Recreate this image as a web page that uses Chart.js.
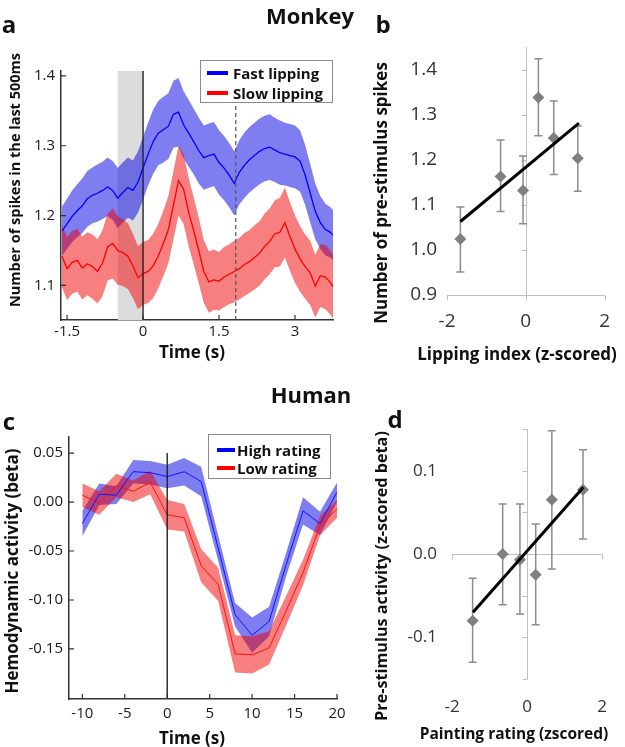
<!DOCTYPE html>
<html>
<head>
<meta charset="utf-8">
<script src="https://cdn.jsdelivr.net/npm/chart.js@4.4.1/dist/chart.umd.min.js"></script>
<style>
  body { margin: 0; background: #fff; }
  #page { position: relative; width: 625px; height: 747px; overflow: hidden; font-family: 'Open Sans', sans-serif; color: #111; }
  canvas { position: absolute; left: 0; top: 0; }
  .txt { position: absolute; white-space: nowrap; line-height: 1; font-weight: 700; transform: translate(-50%, -50%); z-index: 4; }
  .rot { transform: translate(-50%, -50%) rotate(-90deg); }
  .legend { position: absolute; box-sizing: border-box; background: #fff; border: 1px solid #8c8c8c; z-index: 5; }
  .legend .item { position: absolute; white-space: nowrap; font-weight: 700; font-size: 15px; line-height: 1; transform: translateY(-50%); }
  .legend .sw { position: absolute; height: 4px; transform: translateY(-50%); }
</style>
</head>
<body>
<div id="page">
  <canvas id="chartA" width="625" height="747"></canvas>
  <canvas id="chartB" width="625" height="747"></canvas>
  <canvas id="chartC" width="625" height="747"></canvas>
  <canvas id="chartD" width="625" height="747"></canvas>

  <div class="txt" style="left:310px;top:15px;font-size:22px">Monkey</div>
  <div class="txt" style="left:311px;top:394px;font-size:22px">Human</div>
  <div class="txt" style="left:9px;top:24px;font-size:24px">a</div>
  <div class="txt" style="left:383px;top:24px;font-size:24px">b</div>
  <div class="txt" style="left:9px;top:421px;font-size:24px">c</div>
  <div class="txt" style="left:395px;top:419px;font-size:24px">d</div>

  <div class="txt rot" style="left:15px;top:180px;font-size:14.5px">Number of spikes in the last 500ms</div>
  <div class="txt" style="left:192px;top:351px;font-size:17px">Time (s)</div>
  <div class="txt rot" style="left:380px;top:193px;font-size:17px">Number of pre-stimulus spikes</div>
  <div class="txt" style="left:517px;top:353px;font-size:17px">Lipping index (z-scored)</div>
  <div class="txt rot" style="left:11px;top:571px;font-size:17px">Hemodynamic activity (beta)</div>
  <div class="txt" style="left:192px;top:737px;font-size:17px">Time (s)</div>
  <div class="txt rot" style="left:381px;top:576px;font-size:16.2px">Pre-stimulus activity (z-scored beta)</div>
  <div class="txt" style="left:514px;top:734px;font-size:15.5px">Painting rating (zscored)</div>

  <div class="legend" style="left:200px;top:60px;width:133px;height:43px">
    <span class="sw" style="left:6px;top:12px;width:21px;background:#0000ff"></span>
    <div class="item" style="left:32px;top:12px">Fast lipping</div>
    <span class="sw" style="left:6px;top:32px;width:21px;background:#ff0000"></span>
    <div class="item" style="left:32px;top:32px">Slow lipping</div>
  </div>
  <div class="legend" style="left:208px;top:434px;width:123px;height:45px">
    <span class="sw" style="left:8px;top:15px;width:18px;background:#0000ff"></span>
    <div class="item" style="left:28px;top:15px">High rating</div>
    <span class="sw" style="left:8px;top:33px;width:18px;background:#ff0000"></span>
    <div class="item" style="left:28px;top:33px">Low rating</div>
  </div>
</div>

<script>
// ---- panel a: monkey, spikes in the last 500 ms ----
const monkeyTime = [-1.6, -1.5, -1.4, -1.3, -1.2, -1.1, -1.0, -0.9, -0.8, -0.7, -0.6, -0.5, -0.4, -0.3, -0.2, -0.1,
    0, 0.1, 0.2, 0.3, 0.4, 0.5, 0.6, 0.7, 0.8, 0.9,
    1.0, 1.1, 1.2, 1.3, 1.4, 1.5, 1.6, 1.7, 1.8, 1.9,
    2.0, 2.1, 2.2, 2.3, 2.4, 2.5, 2.6, 2.7, 2.8, 2.9,
    3.0, 3.1, 3.2, 3.3, 3.4, 3.5, 3.6, 3.7, 3.75];
const fastMean = [1.178, 1.188, 1.199, 1.207, 1.214, 1.224, 1.229, 1.232, 1.236, 1.241, 1.236, 1.225, 1.233, 1.240, 1.236, 1.248,
    1.268, 1.288, 1.306, 1.318, 1.323, 1.328, 1.345, 1.348, 1.330, 1.318,
    1.306, 1.293, 1.283, 1.286, 1.288, 1.276, 1.268, 1.258, 1.246, 1.262,
    1.272, 1.280, 1.286, 1.292, 1.296, 1.298, 1.294, 1.290, 1.288, 1.286,
    1.284, 1.278, 1.258, 1.232, 1.206, 1.190, 1.180, 1.176, 1.172];
const fastSem = [0.035, 0.036, 0.037, 0.038, 0.039, 0.040, 0.040, 0.041, 0.041, 0.042, 0.042, 0.043, 0.043, 0.043, 0.043, 0.044,
    0.045, 0.045, 0.046, 0.046, 0.047, 0.047, 0.048, 0.049, 0.048, 0.048,
    0.047, 0.047, 0.046, 0.046, 0.046, 0.046, 0.046, 0.046, 0.046, 0.046,
    0.047, 0.047, 0.047, 0.047, 0.047, 0.047, 0.046, 0.046, 0.045, 0.045,
    0.045, 0.044, 0.043, 0.042, 0.040, 0.038, 0.037, 0.036, 0.036];
const slowMean = [1.142, 1.124, 1.133, 1.136, 1.125, 1.131, 1.127, 1.120, 1.132, 1.155, 1.160, 1.150, 1.147, 1.142, 1.128, 1.111,
    1.117, 1.120, 1.128, 1.142, 1.160, 1.180, 1.215, 1.250, 1.238, 1.205,
    1.178, 1.150, 1.120, 1.105, 1.108, 1.106, 1.112, 1.116, 1.120, 1.124,
    1.130, 1.134, 1.140, 1.146, 1.156, 1.163, 1.174, 1.176, 1.190, 1.170,
    1.152, 1.138, 1.127, 1.118, 1.099, 1.114, 1.112, 1.104, 1.098];
const slowSem = [0.045, 0.045, 0.045, 0.045, 0.045, 0.045, 0.046, 0.046, 0.047, 0.048, 0.050, 0.049, 0.048, 0.047, 0.046, 0.045,
    0.045, 0.045, 0.046, 0.046, 0.047, 0.048, 0.049, 0.050, 0.050, 0.049,
    0.048, 0.047, 0.045, 0.044, 0.043, 0.042, 0.043, 0.043, 0.044, 0.044,
    0.045, 0.045, 0.046, 0.046, 0.047, 0.047, 0.048, 0.049, 0.050, 0.049,
    0.048, 0.047, 0.046, 0.046, 0.045, 0.045, 0.046, 0.046, 0.046];
const monkeyXTicks = [-1.5, 0, 1.5, 3];
const monkeyYTicks = [1.1, 1.2, 1.3, 1.4];
const baselineWindow = [-0.5, 0];
const meanLipTime = 1.83;

// ---- panel b: lipping index vs pre-stimulus spikes ----
const lipIndex = [-1.66, -0.64, -0.07, 0.32, 0.71, 1.32];
const lipSpikes = [1.024, 1.163, 1.132, 1.338, 1.248, 1.203];
const lipErrHi = [1.095, 1.244, 1.208, 1.424, 1.330, 1.275];
const lipErrLo = [0.951, 1.085, 1.058, 1.253, 1.167, 1.130];
const lipFitX = [-1.66, 1.35];
const lipFitY = [1.063, 1.281];
const lipXTicks = [-2, 0, 2];
const lipYTicks = [0.9, 1.0, 1.1, 1.2, 1.3, 1.4];

// ---- panel c: human, hemodynamic activity ----
const humanTime = [-10, -8, -6, -4, -2, 0, 2, 4, 6, 8, 10, 12, 14, 16, 18, 20];
const highMean = [-0.022, 0.008, 0.007, 0.031, 0.030, 0.026, 0.031, 0.021, -0.047, -0.115, -0.136, -0.122, -0.064, -0.009, -0.022, 0.010];
const highSem = [0.013, 0.011, 0.009, 0.012, 0.012, 0.012, 0.014, 0.015, 0.013, 0.012, 0.018, 0.015, 0.012, 0.014, 0.012, 0.010];
const lowMean = [0.007, -0.001, 0.017, 0.011, 0.020, -0.013, -0.016, -0.065, -0.084, -0.155, -0.156, -0.149, -0.111, -0.072, -0.024, -0.007];
const lowSem = [0.012, 0.012, 0.012, 0.011, 0.012, 0.015, 0.014, 0.017, 0.017, 0.019, 0.019, 0.017, 0.015, 0.013, 0.010, 0.009];
const humanXTicks = [-10, -5, 0, 5, 10, 15, 20];
const humanYTicks = [-0.15, -0.10, -0.05, 0.00, 0.05];

// ---- panel d: painting rating vs pre-stimulus activity ----
const ratingZ = [-1.45, -0.65, -0.19, 0.23, 0.66, 1.49];
const ratingBeta = [-0.080, 0.000, -0.007, -0.025, 0.065, 0.077];
const ratingErrHi = [-0.029, 0.060, 0.060, 0.036, 0.148, 0.125];
const ratingErrLo = [-0.130, -0.061, -0.072, -0.085, -0.018, 0.018];
const ratingFitX = [-1.44, 1.50];
const ratingFitY = [-0.070, 0.080];
const ratingXTicks = [-2, 0, 2];
const ratingYTicks = [-0.1, 0.0, 0.1];
const ratingTickMarks = [-0.15, -0.1, -0.05, 0, 0.05, 0.1, 0.15];

Chart.defaults.font.family = "'Open Sans', sans-serif";
Chart.defaults.animation = false;
Chart.defaults.plugins.legend.display = false;
Chart.defaults.plugins.tooltip.enabled = false;

const PAGE_W = 625, PAGE_H = 747;
const BLUE_BAND = 'rgba(20, 20, 230, 0.55)';
const RED_BAND = 'rgba(240, 0, 0, 0.5)';

// place the plot area at a fixed spot on the page
function framePadding(area, yWidth, xHeight) {
    return { left: area.l - yWidth, top: area.t, right: PAGE_W - area.r, bottom: PAGE_H - area.b - xHeight };
}
const fixWidth = w => s => { s.width = w; };
const fixHeight = h => s => { s.height = h; };
const useTicks = values => s => { s.ticks = values.map(v => ({ value: v })); };
const points = (xs, ys) => xs.map((x, i) => ({ x: x, y: ys[i] }));

function bandSets(xs, mean, sem, color) {
    return [
        { data: points(xs, mean.map((m, i) => m + sem[i])), borderWidth: 0, pointRadius: 0, fill: '+1', backgroundColor: color },
        { data: points(xs, mean.map((m, i) => m - sem[i])), borderWidth: 0, pointRadius: 0, fill: false }
    ];
}

// matlab-like ticks pointing into the plot
const inwardTicks = {
    id: 'inwardTicks',
    afterDatasetsDraw(chart) {
        const { ctx, chartArea: a, scales: { x, y } } = chart;
        ctx.save();
        ctx.strokeStyle = '#333';
        ctx.lineWidth = 1.2;
        ctx.beginPath();
        x.ticks.forEach(t => {
            const px = x.getPixelForValue(t.value);
            ctx.moveTo(px, a.bottom); ctx.lineTo(px, a.bottom - 5);
        });
        y.ticks.forEach(t => {
            const py = y.getPixelForValue(t.value);
            ctx.moveTo(a.left, py); ctx.lineTo(a.left + 5, py);
        });
        ctx.stroke();
        ctx.restore();
    }
};

function lineAxes(area) {
    return {
        x: {
            type: 'linear', afterFit: fixHeight(40),
            grid: { display: false, drawTicks: false },
            border: { display: true, color: '#333', width: 1.5 },
            ticks: { font: { size: 15 }, color: '#1a1a1a', maxRotation: 0, autoSkip: false }
        },
        y: {
            afterFit: fixWidth(50),
            grid: { display: false, drawTicks: false },
            border: { display: true, color: '#333', width: 1.5 },
            ticks: { font: { size: 15 }, color: '#1a1a1a', padding: 6, autoSkip: false }
        }
    };
}

function renderMonkey() {
    const area = { l: 61, t: 71, r: 333, b: 320 };
    const scales = lineAxes(area);
    Object.assign(scales.x, { min: -1.62, max: 3.75, afterBuildTicks: useTicks(monkeyXTicks) });
    scales.x.ticks.padding = 3;
    scales.x.ticks.callback = v => String(v);
    Object.assign(scales.y, { min: 1.0505, max: 1.407, afterBuildTicks: useTicks(monkeyYTicks) });
    scales.y.ticks.callback = v => v.toFixed(1);

    const marks = {
        id: 'monkeyMarks',
        beforeDatasetsDraw(chart) {
            const { ctx, chartArea: a, scales: { x } } = chart;
            const x0 = x.getPixelForValue(baselineWindow[0]), x1 = x.getPixelForValue(baselineWindow[1]);
            ctx.save();
            ctx.fillStyle = '#dcdcdc';
            ctx.fillRect(x0, a.top, x1 - x0, a.bottom - a.top);
            ctx.restore();
        },
        afterDatasetsDraw(chart) {
            const { ctx, chartArea: a, scales: { x } } = chart;
            ctx.save();
            ctx.strokeStyle = '#222';
            ctx.lineWidth = 1.4;
            const xz = x.getPixelForValue(baselineWindow[1]);
            ctx.beginPath(); ctx.moveTo(xz, a.top); ctx.lineTo(xz, a.bottom); ctx.stroke();
            ctx.strokeStyle = '#555';
            ctx.lineWidth = 1.2;
            ctx.setLineDash([4, 3]);
            const xd = x.getPixelForValue(meanLipTime);
            ctx.beginPath(); ctx.moveTo(xd, a.top); ctx.lineTo(xd, a.bottom); ctx.stroke();
            ctx.restore();
        }
    };

    new Chart(document.getElementById('chartA'), {
        type: 'line',
        data: {
            datasets: [
                { data: points(monkeyTime, fastMean), borderColor: '#0000ff', borderWidth: 1.3, pointRadius: 0, fill: false, order: 1 },
                { data: points(monkeyTime, slowMean), borderColor: '#ff0000', borderWidth: 1.3, pointRadius: 0, fill: false, order: 2 },
                ...bandSets(monkeyTime, fastMean, fastSem, BLUE_BAND).map(d => Object.assign(d, { order: 4 })),
                ...bandSets(monkeyTime, slowMean, slowSem, RED_BAND).map(d => Object.assign(d, { order: 3 }))
            ]
        },
        options: {
            responsive: false,
            layout: { padding: framePadding(area, 50, 40) },
            scales: scales
        },
        plugins: [marks, inwardTicks]
    });
}

function renderHuman() {
    const area = { l: 69, t: 437, r: 337, b: 699 };
    const scales = lineAxes(area);
    Object.assign(scales.x, { min: -11.57, max: 20, afterBuildTicks: useTicks(humanXTicks) });
    scales.x.ticks.padding = 6;
    scales.x.ticks.callback = v => String(v);
    Object.assign(scales.y, { min: -0.2011, max: 0.0664, afterBuildTicks: useTicks(humanYTicks) });
    scales.y.ticks.callback = v => v.toFixed(2);

    const onset = {
        id: 'onset',
        afterDatasetsDraw(chart) {
            const { ctx, chartArea: a, scales: { x, y } } = chart;
            const px = x.getPixelForValue(0);
            ctx.save();
            ctx.strokeStyle = '#222';
            ctx.lineWidth = 1.4;
            ctx.beginPath(); ctx.moveTo(px, y.getPixelForValue(0.05)); ctx.lineTo(px, a.bottom); ctx.stroke();
            ctx.restore();
        }
    };

    new Chart(document.getElementById('chartC'), {
        type: 'line',
        data: {
            datasets: [
                { data: points(humanTime, highMean), borderColor: '#1010ff', borderWidth: 1, pointRadius: 0, fill: false, order: 1 },
                { data: points(humanTime, lowMean), borderColor: '#ff1010', borderWidth: 1, pointRadius: 0, fill: false, order: 2 },
                ...bandSets(humanTime, highMean, highSem, BLUE_BAND).map(d => Object.assign(d, { order: 4 })),
                ...bandSets(humanTime, lowMean, lowSem, RED_BAND).map(d => Object.assign(d, { order: 3 }))
            ]
        },
        options: {
            responsive: false,
            layout: { padding: framePadding(area, 50, 40) },
            scales: scales
        },
        plugins: [onset, inwardTicks]
    });
}

// excel-style scatter: axis lines through the middle, error bars, fit line
function renderScatter(id, cfg) {
    const extras = {
        id: 'scatterExtras',
        beforeDatasetsDraw(chart) {
            const { ctx, scales: { x, y } } = chart;
            ctx.save();
            ctx.strokeStyle = '#bfbfbf';
            ctx.lineWidth = 1;
            ctx.beginPath();
            const vx = Math.round(x.getPixelForValue(0)) + 0.5;
            ctx.moveTo(vx, y.getPixelForValue(cfg.vRange[0]));
            ctx.lineTo(vx, y.getPixelForValue(cfg.vRange[1]));
            cfg.vMarks.forEach(v => {
                const py = Math.round(y.getPixelForValue(v)) + 0.5;
                ctx.moveTo(vx - 5, py); ctx.lineTo(vx, py);
            });
            const hy = Math.round(y.getPixelForValue(cfg.hAt)) + 0.5;
            ctx.moveTo(x.getPixelForValue(-2), hy);
            ctx.lineTo(x.getPixelForValue(2), hy);
            cfg.xTicks.forEach(v => {
                const px = Math.round(x.getPixelForValue(v)) + 0.5;
                ctx.moveTo(px, hy); ctx.lineTo(px, hy + 5);
            });
            ctx.stroke();

            ctx.strokeStyle = '#8c8c8c';
            ctx.lineWidth = 1.5;
            ctx.beginPath();
            cfg.xs.forEach((xv, i) => {
                const px = x.getPixelForValue(xv);
                const top = y.getPixelForValue(cfg.hi[i]), bot = y.getPixelForValue(cfg.lo[i]);
                ctx.moveTo(px, top); ctx.lineTo(px, bot);
                ctx.moveTo(px - 4, top); ctx.lineTo(px + 4, top);
                ctx.moveTo(px - 4, bot); ctx.lineTo(px + 4, bot);
            });
            ctx.stroke();
            ctx.restore();
        }
    };

    new Chart(document.getElementById(id), {
        type: 'scatter',
        data: {
            datasets: [
                { data: points(cfg.fitX, cfg.fitY), showLine: true, borderColor: '#000', borderWidth: 3, pointRadius: 0 },
                { data: points(cfg.xs, cfg.ys), pointStyle: 'rectRot', pointRadius: 6, backgroundColor: '#7f7f7f', borderColor: '#7f7f7f', borderWidth: 0 }
            ]
        },
        options: {
            responsive: false,
            layout: { padding: framePadding(cfg.area, 60, 50) },
            scales: {
                x: {
                    type: 'linear', min: -2, max: 2, afterFit: fixHeight(50), afterBuildTicks: useTicks(cfg.xTicks),
                    grid: { display: false, drawTicks: false }, border: { display: false },
                    ticks: { font: { size: cfg.fontSize }, color: '#333', padding: cfg.xPad, maxRotation: 0, autoSkip: false, callback: v => String(v) }
                },
                y: {
                    min: cfg.yMin, max: cfg.yMax, afterFit: fixWidth(60), afterBuildTicks: useTicks(cfg.yTicks),
                    grid: { display: false, drawTicks: false }, border: { display: false },
                    ticks: { font: { size: cfg.fontSize }, color: '#333', padding: cfg.yPad, autoSkip: false, callback: v => v.toFixed(1) }
                }
            }
        },
        plugins: [extras]
    });
}

renderMonkey();
renderHuman();
renderScatter('chartB', {
    area: { l: 447, t: 47, r: 615, b: 295 },
    xs: lipIndex, ys: lipSpikes, hi: lipErrHi, lo: lipErrLo, fitX: lipFitX, fitY: lipFitY,
    xTicks: lipXTicks, yTicks: lipYTicks, yMin: 0.9, yMax: 1.45,
    vRange: [0.9, 1.45], vMarks: [1.0, 1.1, 1.2, 1.3, 1.4], hAt: 0.9,
    fontSize: 19, xPad: 15, yPad: 10
});
renderScatter('chartD', {
    area: { l: 452, t: 429, r: 615, b: 679 },
    xs: ratingZ, ys: ratingBeta, hi: ratingErrHi, lo: ratingErrLo, fitX: ratingFitX, fitY: ratingFitY,
    xTicks: ratingXTicks, yTicks: ratingYTicks, yMin: -0.15, yMax: 0.15,
    vRange: [-0.15, 0.15], vMarks: ratingTickMarks, hAt: 0,
    fontSize: 17, xPad: 18, yPad: 15
});
</script>
</body>
</html>
